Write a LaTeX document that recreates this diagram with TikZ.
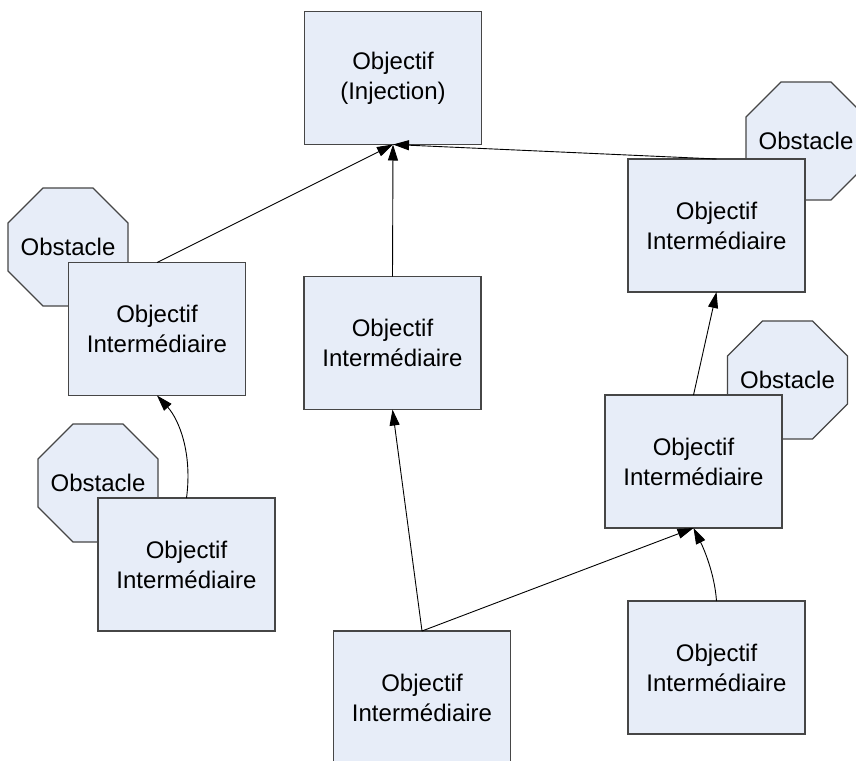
\documentclass[tikz,border=0pt]{standalone}
\usepackage{fontspec}
\setmainfont{Liberation Sans}
\usetikzlibrary{arrows.meta}
\definecolor{boxfill}{RGB}{231,237,248}
\definecolor{boxline}{RGB}{70,70,70}
\tikzset{
  goal/.style={draw=boxline, fill=boxfill, line width=1.1pt, minimum width=177pt, minimum height=133pt,
    inner sep=0pt, outer sep=0pt, align=center, font=\fontsize{24}{30}\selectfont},
  obstline/.style={draw=boxline, fill=boxfill, line width=1.1pt},
  obst/.style={inner sep=0pt, font=\fontsize{24}{30}\selectfont},
  link/.style={draw=black, line width=0.9pt, -{Triangle[length=16pt,width=10pt]}}
}
\newcommand{\octagonat}[3]{%
  \draw[obstline] (#1-25,#2-59) -- (#1+25,#2-59) -- (#1+60,#2-24) -- (#1+60,#2+24)
    -- (#1+25,#2+59) -- (#1-25,#2+59) -- (#1-60,#2+24) -- (#1-60,#2-24) -- cycle;
  \node[obst] (#3) at (#1,#2) {Obstacle};}
\begin{document}
\begin{tikzpicture}[x=1pt,y=-1pt]
\useasboundingbox (0,0) rectangle (856,760);
\clip (0,0) rectangle (856,760);
\fill[white] (0,0) rectangle (856,760);
% obstacles
\octagonat{68}{247}{o1}
\octagonat{806}{141}{o2}
\octagonat{787.5}{380}{o3}
\octagonat{98}{483}{o4}
% goals
\node[goal] (top) at (393,78) {Objectif\\(Injection)};
\node[goal] (left) at (157,329) {Objectif\\Intermédiaire};
\node[goal] (mid) at (392.5,343) {Objectif\\Intermédiaire};
\node[goal] (rt) at (716.5,225.5) {Objectif\\Intermédiaire};
\node[goal] (rm) at (693.5,461.5) {Objectif\\Intermédiaire};
\node[goal] (bl) at (186.5,564.5) {Objectif\\Intermédiaire};
\node[goal] (bc) at (422,697.5) {Objectif\\Intermédiaire};
\node[goal] (br) at (716.5,667.5) {Objectif\\Intermédiaire};
% connectors
\draw[link] (left.north) -- (top.south);
\draw[link] (mid.north) -- (top.south);
\draw[link] (rt.north) -- (top.south);
\draw[link] (rm.north) -- (rt.south);
\draw[link] (bc.north) -- (mid.south);
\draw[link] (bc.north) -- (rm.south);
\draw[link] (bl.north) .. controls +(6,-45) and +(22,24) .. (left.south);
\draw[link] (br.north) .. controls +(-2,-28) and +(10,20) .. (rm.south);
\end{tikzpicture}
\end{document}
